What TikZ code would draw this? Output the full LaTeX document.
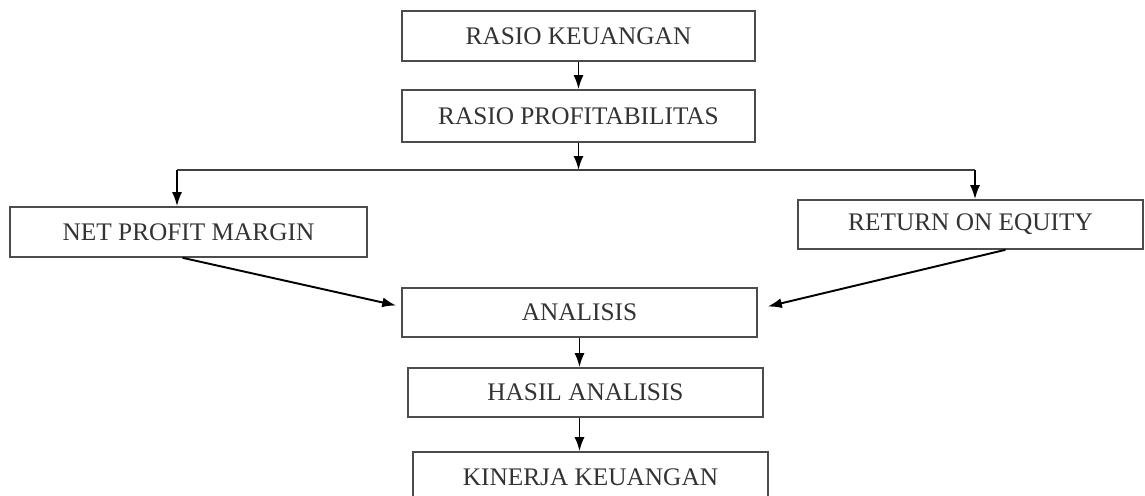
\documentclass[tikz,border=0pt]{standalone}
\usepackage{fontspec}
\setmainfont{Liberation Serif}
\usepackage{tikz}
\usetikzlibrary{arrows.meta}

\begin{document}
\begin{tikzpicture}[
    x=1cm,
    y=1cm,
    box/.style={
        draw=black!70,
        line width=0.9pt,
        inner sep=0pt,
        text=black!80,
        font=\fontsize{14.4}{16}\selectfont
    },
    link/.style={
        line width=1.1pt,
        -{Latex[length=2.8mm,width=2mm]}
    }
]


\useasboundingbox (0,0) rectangle (22.9,-9.9);


\node[box, minimum width=7.06cm, minimum height=1.0cm]  (rasio) at (11.57,-0.72) {RASIO KEUANGAN};
\node[box, minimum width=7.06cm, minimum height=1.04cm] (profit) at (11.57,-2.32) {RASIO PROFITABILITAS};
\node[box, minimum width=7.14cm, minimum height=1.0cm]  (npm) at (3.77,-4.64) {NET PROFIT MARGIN};
\node[box, minimum width=6.9cm, minimum height=0.98cm]  (roe) at (19.41,-4.49) {RETURN ON EQUITY};
\node[box, minimum width=7.1cm, minimum height=0.98cm]  (analisis) at (11.59,-6.25) {ANALISIS};
\node[box, minimum width=7.1cm, minimum height=0.98cm]  (hasil) at (11.71,-7.85) {HASIL ANALISIS};
\node[box, minimum width=7.1cm, minimum height=1.0cm]   (kinerja) at (11.81,-9.54) {KINERJA KEUANGAN};


\coordinate (split) at (11.57,-3.4);
\coordinate (splitL) at (3.54,-3.4);
\coordinate (splitR) at (19.5,-3.4);


\draw[link] (rasio) -- (profit);
\draw[link] (profit) -- (split);
\draw[line width=1pt, black!75] (splitL) -- (splitR);
\draw[link] (splitL) -- (splitL |- npm.north);
\draw[link] (splitR) -- (splitR |- roe.north);


\draw[link] ([xshift=-0.12cm]npm.south) -- ([xshift=-0.1cm,yshift=0.14cm]analisis.west);
\draw[link] ([xshift=0.7cm]roe.south) -- ([xshift=0.2cm,yshift=0.12cm]analisis.east);


\draw[link] (analisis.south) -- (analisis.south |- hasil.north);
\draw[link] (analisis.south |- hasil.south) -- (analisis.south |- kinerja.north);

\end{tikzpicture}
\end{document}
